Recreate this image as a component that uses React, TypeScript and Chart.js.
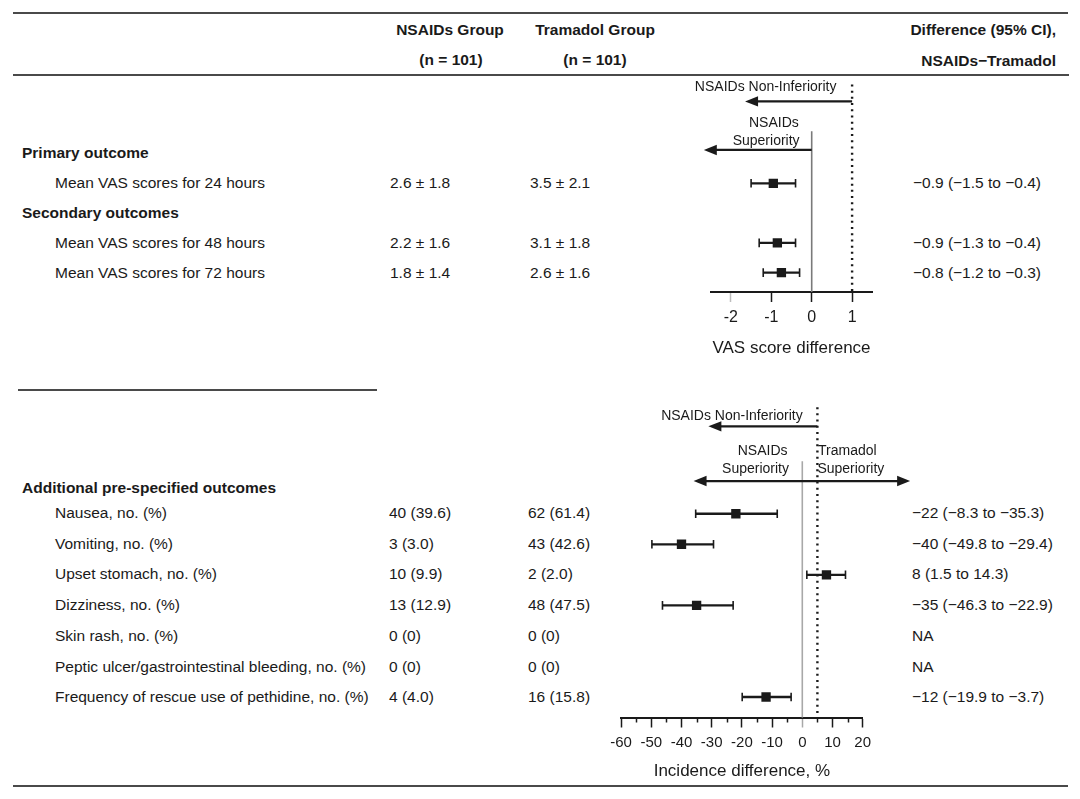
import React, { useEffect, useRef } from 'react';
import { Chart, registerables } from 'chart.js';

Chart.register(...registerables);

// ---------------- DATA ----------------
const headerNsaids = ['NSAIDs Group', '(n = 101)'];
const headerTramadol = ['Tramadol Group', '(n = 101)'];
const headerDiff = ['Difference (95% CI),', 'NSAIDs\u2212Tramadol'];

const primaryTitle = 'Primary outcome';
const secondaryTitle = 'Secondary outcomes';
const vasOutcomes = ['Mean VAS scores for 24 hours', 'Mean VAS scores for 48 hours', 'Mean VAS scores for 72 hours'];
const vasNsaids = ['2.6 \u00b1 1.8', '2.2 \u00b1 1.6', '1.8 \u00b1 1.4'];
const vasTramadol = ['3.5 \u00b1 2.1', '3.1 \u00b1 1.8', '2.6 \u00b1 1.6'];
const vasDiffText = ['\u22120.9 (\u22121.5 to \u22120.4)', '\u22120.9 (\u22121.3 to \u22120.4)', '\u22120.8 (\u22121.2 to \u22120.3)'];
const vasRows = [1, 3, 4]; // row slots: 0 primary title, 1 24h, 2 secondary title, 3 48h, 4 72h
const vasEst = [-0.95, -0.85, -0.75];
const vasLo = [-1.5, -1.3, -1.2];
const vasHi = [-0.4, -0.4, -0.3];
const vasTicks = [-2, -1, 0, 1];

const addTitle = 'Additional pre-specified outcomes';
const aeOutcomes = [
  'Nausea, no. (%)',
  'Vomiting, no. (%)',
  'Upset stomach, no. (%)',
  'Dizziness, no. (%)',
  'Skin rash, no. (%)',
  'Peptic ulcer/gastrointestinal bleeding, no. (%)',
  'Frequency of rescue use of pethidine, no. (%)',
];
const aeNsaids = ['40 (39.6)', '3 (3.0)', '10 (9.9)', '13 (12.9)', '0 (0)', '0 (0)', '4 (4.0)'];
const aeTramadol = ['62 (61.4)', '43 (42.6)', '2 (2.0)', '48 (47.5)', '0 (0)', '0 (0)', '16 (15.8)'];
const aeDiffText = [
  '\u221222 (\u22128.3 to \u221235.3)',
  '\u221240 (\u221249.8 to \u221229.4)',
  '8 (1.5 to 14.3)',
  '\u221235 (\u221246.3 to \u221222.9)',
  'NA',
  'NA',
  '\u221212 (\u221219.9 to \u22123.7)',
];
const aeRows = [0, 1, 2, 3, 4, 5, 6];
const aeEst: (number | null)[] = [-22, -40, 8, -35, null, null, -12];
const aeLo: (number | null)[] = [-35.3, -49.8, 1.5, -46.3, null, null, -19.9];
const aeHi: (number | null)[] = [-8.3, -29.4, 14.3, -22.9, null, null, -3.7];
const aeTicks = [-60, -50, -40, -30, -20, -10, 0, 10, 20];
const aeMinorTicks = [-55, -45, -35, -25, -15, -5, 5, 15];

// ---------------- STYLE ----------------
const FONT = '"Liberation Sans", Arial, Helvetica, sans-serif';
const INK = '#1a1a1a';
const RULE = '#4a4a4a';
const FS = 15.5;
const HEAD_LEN = 13;
const HEAD_HALF = 5.2;

type Label = { x: number; y: number; text: string; align: CanvasTextAlign };
type Arrow = { y: number; from: number; to: number; tipTo: number; tipFrom?: number };
type RefLine = { x: number; from: number; color: string; width: number; dash?: number[] };

type Spec = {
  left: number; top: number; width: number; height: number;
  pad: { left: number; right: number; top: number; bottom: number };
  axisH: number;
  xMin: number; xMax: number; yMin: number; yMax: number;
  ticks: number[]; minorTicks: number[]; tickSize: number;
  tickColor: (v: number) => string;
  title: string;
  rows: number[]; est: (number | null)[]; lo: (number | null)[]; hi: (number | null)[];
  refLines: RefLine[]; arrows: Arrow[]; labels: Label[];
};

const topSpec: Spec = {
  left: 640, top: 70, width: 300, height: 300,
  pad: { left: 70.7, right: 67.7, top: 5, bottom: 11.8 },
  axisH: 66.2,
  xMin: -2.5, xMax: 1.5,
  // rows: pixel = 152.5 + 30 * row
  yMin: (75 - 152.5) / 30, yMax: (292 - 152.5) / 30,
  ticks: vasTicks, minorTicks: [], tickSize: 16,
  tickColor: (v) => (v === -2 ? '#bdbdbd' : INK),
  title: 'VAS score difference',
  rows: vasRows, est: vasEst, lo: vasLo, hi: vasHi,
  refLines: [
    { x: 0, from: -0.75, color: '#7a7a7a', width: 1.6 },
    { x: 1, from: -2.32, color: INK, width: 2.4, dash: [2, 4.2] },
  ],
  arrows: [
    { y: -1.75, from: 1, to: -1.5, tipTo: -1.65 },
    { y: -0.12, from: 0, to: -2.5, tipTo: -2.67 },
  ],
  labels: [
    { x: -1.14, y: -2.22, text: 'NSAIDs Non-Inferiority', align: 'center' },
    { x: -0.32, y: -1.02, text: 'NSAIDs', align: 'right' },
    { x: -0.3, y: -0.42, text: 'Superiority', align: 'right' },
  ],
};

const botSpec: Spec = {
  left: 580, top: 395, width: 360, height: 400,
  pad: { left: 41.1, right: 77.3, top: 5, bottom: 13.1 },
  axisH: 64.4,
  xMin: -60, xMax: 20,
  // rows: pixel = 512.7 + 30.7 * row
  yMin: (400 - 512.7) / 30.7, yMax: (717.5 - 512.7) / 30.7,
  ticks: aeTicks, minorTicks: aeMinorTicks, tickSize: 15,
  tickColor: (v) => (v === 0 ? '#a8a8a8' : INK),
  title: 'Incidence difference, %',
  rows: aeRows, est: aeEst, lo: aeLo, hi: aeHi,
  refLines: [
    { x: 0, from: -1.72, color: '#a8a8a8', width: 1.6 },
    { x: 5, from: -3.49, color: INK, width: 2.4, dash: [2, 4.2] },
  ],
  arrows: [
    { y: -2.86, from: 5, to: -29.3, tipTo: -31.1 },
    { y: -1.07, from: -34.2, to: 33.9, tipFrom: -36, tipTo: 35.7 },
  ],
  labels: [
    { x: -23.3, y: -3.21, text: 'NSAIDs Non-Inferiority', align: 'center' },
    { x: -4.9, y: -2.04, text: 'NSAIDs', align: 'right' },
    { x: -4.4, y: -1.46, text: 'Superiority', align: 'right' },
    { x: 5.2, y: -2.04, text: 'Tramadol', align: 'left' },
    { x: 5.0, y: -1.46, text: 'Superiority', align: 'left' },
  ],
};

function Forest({ spec }: { spec: Spec }) {
  const ref = useRef<HTMLCanvasElement>(null);
  useEffect(() => {
    const canvas = ref.current!;
    const datasets: any[] = [];
    const pts: any[] = [];
    spec.rows.forEach((r, k) => {
      const e = spec.est[k];
      if (e != null) pts.push({ x: e, y: r });
    });
    datasets.push({
      data: pts, showLine: false, pointStyle: 'rect', pointRadius: 6.6,
      pointBackgroundColor: INK, pointBorderColor: INK, pointBorderWidth: 0, order: 0,
    });
    spec.rows.forEach((r, k) => {
      const lo = spec.lo[k];
      const hi = spec.hi[k];
      if (lo == null || hi == null) return;
      datasets.push({
        data: [{ x: lo, y: r }, { x: hi, y: r }], showLine: true,
        borderColor: INK, borderWidth: 2.3, pointStyle: 'line', pointRotation: 90,
        pointRadius: 4.3, pointBorderWidth: 1.6, pointBorderColor: INK, order: 1,
      });
    });
    spec.arrows.forEach((a) => {
      datasets.push({
        data: [{ x: a.from, y: a.y }, { x: a.to, y: a.y }], showLine: true, clip: false,
        borderColor: INK, borderWidth: 2.2, pointRadius: 0, order: 2,
      });
    });
    spec.refLines.forEach((l) => {
      datasets.push({
        data: [{ x: l.x, y: l.from }, { x: l.x, y: spec.yMax }], showLine: true, clip: false,
        borderColor: l.color, borderWidth: l.width, borderDash: l.dash || [], pointRadius: 0, order: 3,
      });
    });

    const annot = {
      id: 'annot',
      afterDatasetsDraw(chart: any) {
        const { ctx, chartArea } = chart;
        const x = chart.scales.x;
        const y = chart.scales.y;
        ctx.save();
        // arrow heads
        ctx.fillStyle = INK;
        const head = (tip: number, base: number, yv: number) => {
          const tx = x.getPixelForValue(tip);
          const bx = x.getPixelForValue(base);
          const dir = tx < bx ? 1 : -1;
          const py = y.getPixelForValue(yv);
          ctx.beginPath();
          ctx.moveTo(tx, py);
          ctx.lineTo(tx + dir * HEAD_LEN, py - HEAD_HALF);
          ctx.lineTo(tx + dir * HEAD_LEN, py + HEAD_HALF);
          ctx.closePath();
          ctx.fill();
        };
        spec.arrows.forEach((a) => {
          head(a.tipTo, a.from, a.y);
          if (a.tipFrom != null) head(a.tipFrom, a.to, a.y);
        });
        // labels
        ctx.font = `14px ${FONT}`;
        ctx.textBaseline = 'middle';
        spec.labels.forEach((l) => {
          ctx.textAlign = l.align;
          ctx.fillText(l.text, x.getPixelForValue(l.x), y.getPixelForValue(l.y));
        });
        // minor ticks
        ctx.strokeStyle = INK;
        ctx.lineWidth = 1.5;
        spec.minorTicks.forEach((v) => {
          const px = Math.round(x.getPixelForValue(v)) + 0.5;
          ctx.beginPath();
          ctx.moveTo(px, chartArea.bottom + 1);
          ctx.lineTo(px, chartArea.bottom + 5);
          ctx.stroke();
        });
        ctx.restore();
      },
    };

    const chart = new Chart(canvas, {
      type: 'scatter',
      data: { datasets },
      options: {
        animation: false,
        responsive: false,
        events: [],
        layout: { padding: spec.pad },
        plugins: { legend: { display: false }, tooltip: { enabled: false } },
        scales: {
          x: {
            type: 'linear',
            min: spec.xMin,
            max: spec.xMax,
            afterBuildTicks: (s: any) => {
              s.ticks = spec.ticks.map((v) => ({ value: v }));
            },
            afterFit: (s: any) => {
              s.height = spec.axisH;
            },
            grid: {
              drawOnChartArea: false, drawTicks: true, tickLength: 10, tickWidth: 1.5,
              tickColor: (c: any) => spec.tickColor(c.tick ? c.tick.value : 0),
            },
            border: { display: true, color: INK, width: 2 },
            ticks: {
              padding: 6, color: INK, autoSkip: false, maxRotation: 0,
              font: { family: FONT, size: spec.tickSize },
              callback: (v: any) => String(v),
            },
            title: {
              display: true, text: spec.title, color: INK, padding: 0,
              font: { family: FONT, size: 17 },
            },
          },
          y: { type: 'linear', display: false, min: spec.yMin, max: spec.yMax, reverse: true },
        },
      } as any,
      plugins: [annot],
    });
    return () => chart.destroy();
  }, [spec]);
  return (
    <canvas
      ref={ref}
      width={spec.width}
      height={spec.height}
      style={{ position: 'absolute', left: spec.left, top: spec.top, width: spec.width, height: spec.height }}
    />
  );
}

function T({ x, y, children, bold, align = 'left' }: { x: number; y: number; children: React.ReactNode; bold?: boolean; align?: 'left' | 'center' | 'right' }) {
  const tx = align === 'left' ? '0' : align === 'center' ? '-50%' : '-100%';
  return (
    <div
      style={{
        position: 'absolute', left: x, top: y, transform: `translate(${tx}, -50%)`,
        whiteSpace: 'nowrap', fontFamily: FONT, fontSize: FS, fontWeight: bold ? 700 : 400,
        lineHeight: 1, color: INK,
      }}
    >
      {children}
    </div>
  );
}

function Rule({ x1, x2, y }: { x1: number; x2: number; y: number }) {
  return <div style={{ position: 'absolute', left: x1, top: y - 1, width: x2 - x1, height: 2, background: RULE }} />;
}

const COL_LABEL = 55;
const COL_TITLE = 22;
const COL_N = 390;
const COL_T = 530;
const COL_D = 913;

export default function App() {
  const vasY = (slot: number) => 153 + 30 * slot;
  const aeY = (i: number) => 513 + 30.7 * i;
  return (
    <div style={{ position: 'absolute', left: 0, top: 0, width: 1080, height: 799, background: '#fff', overflow: 'hidden' }}>
      <Rule x1={13} x2={1068} y={13} />
      <T x={450} y={30} bold align="center">{headerNsaids[0]}</T>
      <T x={451} y={60} bold align="center">{headerNsaids[1]}</T>
      <T x={595} y={30} bold align="center">{headerTramadol[0]}</T>
      <T x={595} y={60} bold align="center">{headerTramadol[1]}</T>
      <T x={1056} y={30} bold align="right">{headerDiff[0]}</T>
      <T x={1056} y={61} bold align="right">{headerDiff[1]}</T>
      <Rule x1={13} x2={1069} y={75} />

      <T x={COL_TITLE} y={vasY(0)} bold>{primaryTitle}</T>
      <T x={COL_TITLE} y={vasY(2)} bold>{secondaryTitle}</T>
      {vasOutcomes.map((o, k) => (
        <React.Fragment key={o}>
          <T x={COL_LABEL} y={vasY(vasRows[k])}>{o}</T>
          <T x={COL_N} y={vasY(vasRows[k])}>{vasNsaids[k]}</T>
          <T x={COL_T} y={vasY(vasRows[k])}>{vasTramadol[k]}</T>
          <T x={COL_D} y={vasY(vasRows[k])}>{vasDiffText[k]}</T>
        </React.Fragment>
      ))}

      <Rule x1={18} x2={377} y={390} />

      <T x={COL_TITLE} y={488} bold>{addTitle}</T>
      {aeOutcomes.map((o, k) => (
        <React.Fragment key={o}>
          <T x={COL_LABEL} y={aeY(aeRows[k])}>{o}</T>
          <T x={389} y={aeY(aeRows[k])}>{aeNsaids[k]}</T>
          <T x={528} y={aeY(aeRows[k])}>{aeTramadol[k]}</T>
          <T x={912} y={aeY(aeRows[k])}>{aeDiffText[k]}</T>
        </React.Fragment>
      ))}

      <Rule x1={13} x2={1068} y={786} />

      <Forest spec={topSpec} />
      <Forest spec={botSpec} />
    </div>
  );
}
